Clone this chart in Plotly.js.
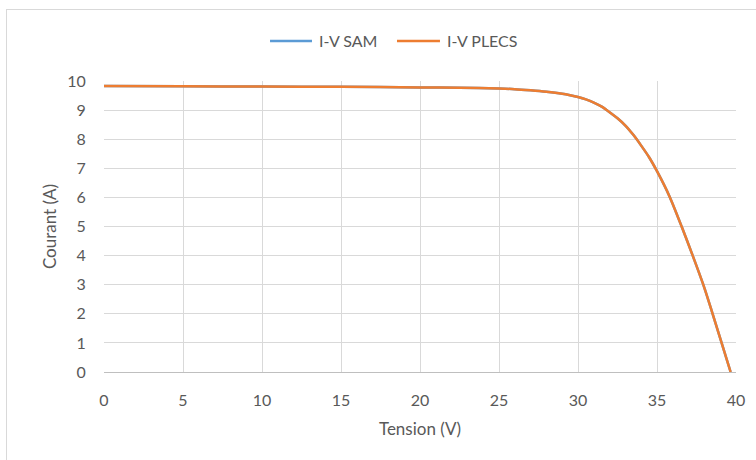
<!DOCTYPE html>
<html><head><meta charset="utf-8">
<script src="https://cdn.plot.ly/plotly-3.0.1.min.js"></script>
<style>
html,body{margin:0;padding:0;background:#fff;}
#wrap{position:relative;width:756px;height:460px;overflow:hidden;}
#frame{position:absolute;left:6px;top:9px;width:780px;height:480px;border:1px solid #d9d9d9;pointer-events:none;z-index:5;}
#chart{position:absolute;left:0;top:0;width:756px;height:460px;}
</style></head>
<body><div id="wrap"><div id="frame"></div><div id="chart"></div></div>
<script>
const voltage = [0, 5, 10, 15, 20, 22.5, 25, 26, 27, 28, 29, 29.5, 30, 30.5, 31, 31.5, 32, 32.5, 33, 33.5, 34, 34.5, 35, 35.82, 36.56, 37.26, 37.93, 38.52, 39.09, 39.66];
const currentSAM = [9.83, 9.82, 9.81, 9.80, 9.78, 9.77, 9.74, 9.72, 9.68, 9.63, 9.56, 9.51, 9.45, 9.37, 9.26, 9.12, 8.93, 8.72, 8.47, 8.15, 7.78, 7.38, 6.9, 6.0, 5.0, 4.0, 3.0, 2.0, 1.0, 0];
const currentPLECS = [9.83, 9.82, 9.81, 9.80, 9.78, 9.77, 9.74, 9.72, 9.68, 9.63, 9.56, 9.51, 9.45, 9.37, 9.26, 9.12, 8.93, 8.72, 8.47, 8.15, 7.78, 7.38, 6.9, 6.0, 5.0, 4.0, 3.0, 2.0, 1.0, 0];
const seriesNames = ['I-V SAM', 'I-V PLECS'];
const seriesColors = ['#5B9BD5', '#ED7D31'];
const xTicks = [0, 5, 10, 15, 20, 25, 30, 35, 40];
const yTicks = [0, 1, 2, 3, 4, 5, 6, 7, 8, 9, 10];

const font = 'Lato, "Open Sans", "Liberation Sans", sans-serif';
const data = [
  {x: voltage, y: currentSAM, name: seriesNames[0], type: 'scatter', mode: 'lines',
   line: {color: seriesColors[0], width: 2.5, shape: 'spline', smoothing: 0.6}},
  {x: voltage, y: currentPLECS, name: seriesNames[1], type: 'scatter', mode: 'lines',
   line: {color: seriesColors[1], width: 2.5, shape: 'spline', smoothing: 0.6}}
];
// custom legend (Excel-style long line samples)
const legY = 1.1375;
const legItems = [
  {x0: 0.2627, x1: 0.3291, tx: 0.3370},
  {x0: 0.4636, x1: 0.5316, tx: 0.5396}
];
const shapes = legItems.map((it, i) => ({type: 'line', xref: 'paper', yref: 'paper',
  x0: it.x0, x1: it.x1, y0: legY, y1: legY, line: {color: seriesColors[i], width: 2.5}}));
const annotations = legItems.map((it, i) => ({xref: 'paper', yref: 'paper', x: it.tx, y: legY,
  xanchor: 'left', yanchor: 'middle', showarrow: false, text: seriesNames[i],
  font: {size: 16, color: '#595959', family: font}}));

const layout = {
  width: 756, height: 460,
  margin: {l: 104, r: 20, t: 81, b: 88},
  paper_bgcolor: 'rgba(0,0,0,0)', plot_bgcolor: 'rgba(0,0,0,0)',
  font: {family: font, color: '#595959', size: 16},
  showlegend: false,
  shapes: shapes, annotations: annotations,
  xaxis: {range: [0, 40], tickvals: xTicks, ticktext: xTicks.map(String), showgrid: true,
          gridcolor: '#d9d9d9', gridwidth: 1, zeroline: false, showline: true, linecolor: '#bfbfbf',
          linewidth: 1, ticks: 'outside', ticklen: 14, tickcolor: 'rgba(0,0,0,0)', tickfont: {size: 16, color: '#595959'},
          title: {text: 'Tension (V)', font: {size: 17, color: '#595959'}, standoff: 14}},
  yaxis: {range: [0, 10], tickvals: yTicks, ticktext: yTicks.map(String), showgrid: true,
          gridcolor: '#d9d9d9', gridwidth: 1, zeroline: false, showline: false,
          ticks: 'outside', ticklen: 14, tickcolor: 'rgba(0,0,0,0)', tickfont: {size: 16, color: '#595959'},
          title: {text: 'Courant (A)', font: {size: 17, color: '#595959'}, standoff: 6}}
};
Plotly.newPlot('chart', data, layout, {displayModeBar: false, staticPlot: true});
</script></body></html>
